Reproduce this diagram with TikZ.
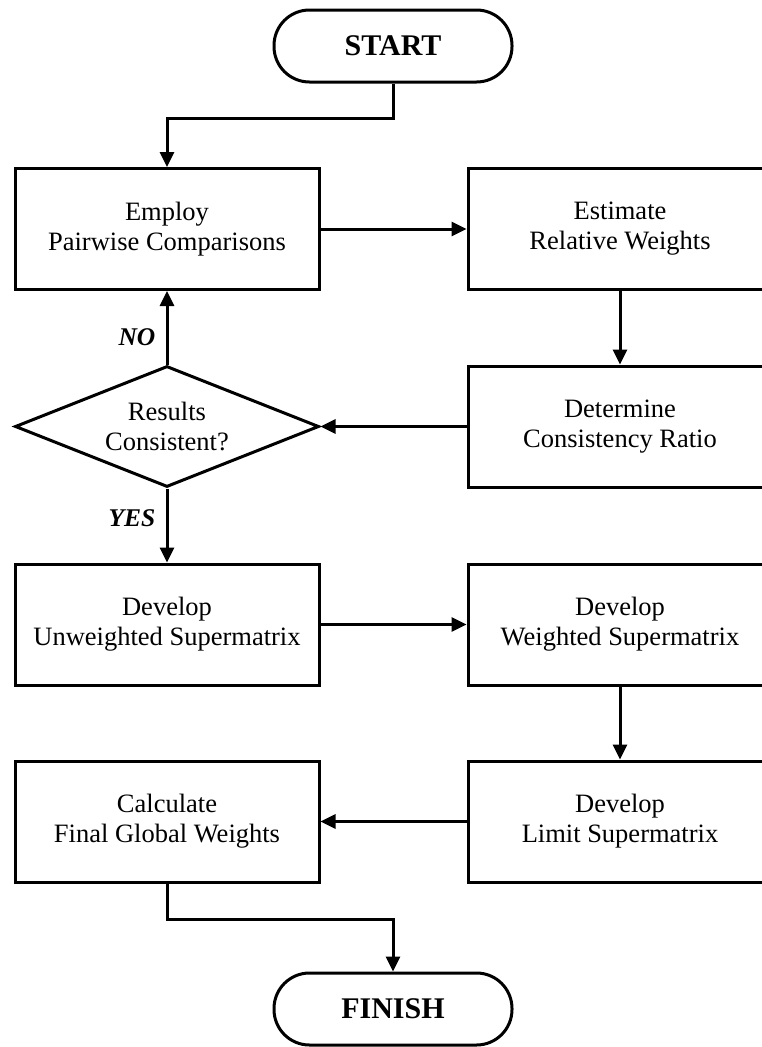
\documentclass[tikz,border=0pt]{standalone}
\usepackage{fontspec}
\setmainfont{Liberation Serif}
\usetikzlibrary{arrows.meta,shapes.geometric}
\begin{document}
\begin{tikzpicture}[x=1pt,y=-1pt,line width=3pt,
  proc/.style={draw, minimum width=304pt, minimum height=121pt, inner sep=0pt,
    align=center, font=\fontsize{26.5}{30}\selectfont},
  term/.style={draw, rounded corners=35.5pt, minimum width=238pt, minimum height=72pt,
    inner sep=0pt, font=\bfseries\fontsize{30}{32}\selectfont},
  decision/.style={draw, diamond, aspect=2.5, minimum width=304pt, minimum height=121pt,
    inner sep=0pt, align=center, font=\fontsize{26.5}{30}\selectfont},
  answer/.style={font=\bfseries\itshape\fontsize{25.5}{28}\selectfont},
  flow/.style={-{Triangle[length=15pt,width=14pt]}}
]
\useasboundingbox (0,0) rectangle (761,1047);

% terminals
\node[term] (start)  at (393,46)   {START};
\node[term] (finish) at (393,1009) {FINISH};

% process steps
\node[proc] (pair)   at (167,229)   {Employ\\Pairwise Comparisons};
\node[proc] (relw)   at (620,229)   {Estimate\\Relative Weights};
\node[proc] (ratio)  at (620,426.5) {Determine\\Consistency Ratio};
\node[decision] (cons) at (167,426.5) {Results\\Consistent?};
\node[proc] (unw)    at (167,624.5) {Develop\\Unweighted Supermatrix};
\node[proc] (wsm)    at (620,624.5) {Develop\\Weighted Supermatrix};
\node[proc] (lim)    at (620,821.5) {Develop\\Limit Supermatrix};
\node[proc] (glob)   at (167,821.5) {Calculate\\Final Global Weights};

% branch labels
\node[answer] (no)  at (137,337) {NO};
\node[answer] (yes) at (132,518) {YES};

% connectors
\coordinate (j1) at (393,118);
\coordinate (j2) at (167,919);
\draw[flow] (start.south) -- (j1) -| (pair.north);
\draw[flow] (pair.east) -- (relw.west);
\draw[flow] (relw.south) -- (ratio.north);
\draw[flow] (ratio.west) -- (cons.east);
\draw[flow] (cons.north) -- (pair.south);
\draw[flow] (cons.south) -- (unw.north);
\draw[flow] (unw.east) -- (wsm.west);
\draw[flow] (wsm.south) -- (lim.north);
\draw[flow] (lim.west) -- (glob.east);
\draw[flow] (glob.south) -- (j2) -| (finish.north);
\end{tikzpicture}
\end{document}
